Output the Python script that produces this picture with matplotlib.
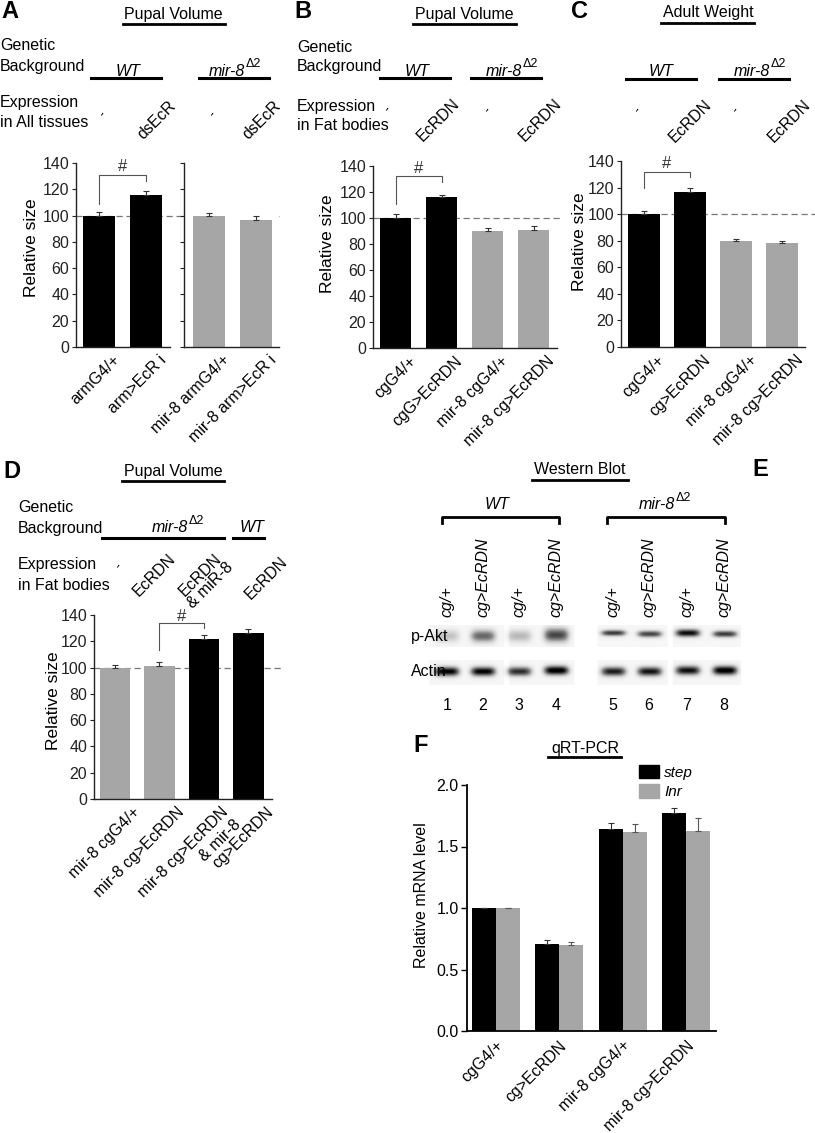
import matplotlib
matplotlib.use("Agg")
import matplotlib.pyplot as plt
import matplotlib.transforms as mtransforms
from matplotlib.lines import Line2D
from matplotlib.patches import Patch
import numpy as np

plt.rcParams['font.family'] = ['Liberation Sans', 'DejaVu Sans']

W, H = 815, 1133
BLK = '#000000'
GRY = '#a6a6a6'

# ---- data ----
a_wt_labels = ['armG4/+', 'arm>EcR i']
a_wt = [100, 116]
a_wt_err = [3, 3]
a_mir_labels = ['mir-8 armG4/+', 'mir-8 arm>EcR i']
a_mir = [100, 97]
a_mir_err = [2, 3]

b_labels = ['cgG4/+', 'cgG>EcRDN', 'mir-8 cgG4/+', 'mir-8 cg>EcRDN']
b_vals = [100, 116, 90, 91]
b_err = [3, 2, 2, 3]

c_labels = ['cgG4/+', 'cg>EcRDN', 'mir-8 cgG4/+', 'mir-8 cg>EcRDN']
c_vals = [100, 117, 80, 78]
c_err = [2, 3, 1, 2]

d_labels = ['mir-8 cgG4/+', 'mir-8 cg>EcRDN', 'mir-8 cg>EcRDN\n& mir-8', 'cg>EcRDN']
d_vals = [100, 101, 122, 126]
d_err = [2, 3, 3, 3]

f_labels = ['cgG4/+', 'cg>EcRDN', 'mir-8 cgG4/+', 'mir-8 cg>EcRDN']
f_step = [1.0, 0.71, 1.64, 1.77]
f_step_err = [0.0, 0.03, 0.05, 0.04]
f_inr = [1.0, 0.70, 1.62, 1.63]
f_inr_err = [0.0, 0.02, 0.06, 0.10]

blot_lanes = ['cg/+', 'cg>EcRDN', 'cg/+', 'cg>EcRDN', 'cg/+', 'cg>EcRDN', 'cg/+', 'cg>EcRDN']
blot_numbers = ['1', '2', '3', '4', '5', '6', '7', '8']
pakt_level = [0.28, 0.6, 0.32, 0.72, 0.75, 0.72, 0.9, 0.75]
actin_level = [0.95, 0.95, 0.8, 1.0, 0.85, 0.88, 0.9, 1.0]

fig = plt.figure(figsize=(W / 100, H / 100), dpi=100)

TICK = 11.5


def add_ax(x0, x1, ytop, ybot):
    return fig.add_axes([x0 / W, 1 - ybot / H, (x1 - x0) / W, (ybot - ytop) / H])


def txt(x, y, s, **kw):
    kw.setdefault('ha', 'center')
    kw.setdefault('va', 'center')
    kw.setdefault('fontsize', 11.5)
    return fig.text(x / W, 1 - y / H, s, **kw)


def hline(x0, x1, y, lw=2.2, color='k'):
    fig.add_artist(Line2D([x0 / W, x1 / W], [1 - y / H, 1 - y / H], color=color, lw=lw))


def mir8(split, y, size=11.5):
    txt(split, y, 'mir-8', ha='right', style='italic', fontsize=size)
    txt(split + 1, y - 7, '\u03942', ha='left', fontsize=size * 0.78)


def style_ax(ax, xlim, labels, dx=13, ylabels=True):
    ax.set_xlim(xlim)
    ax.set_ylim(0, 140)
    for s in ['top', 'right']:
        ax.spines[s].set_visible(False)
    for s in ['left', 'bottom']:
        ax.spines[s].set_color('#222222')
        ax.spines[s].set_linewidth(1.0)
    ax.set_yticks(range(0, 141, 20))
    ax.tick_params(axis='y', length=3, width=0.8, labelsize=TICK, pad=2, colors='#222222')
    if not ylabels:
        ax.set_yticklabels([])
    ax.set_xticks(np.arange(len(labels)))
    ax.set_xticklabels(labels, rotation=45, ha='right', rotation_mode='anchor', fontsize=TICK)
    ax.tick_params(axis='x', length=0, pad=4)
    off = mtransforms.ScaledTranslation(dx / 100, 0, fig.dpi_scale_trans)
    for lab in ax.get_xticklabels():
        lab.set_transform(lab.get_transform() + off)


def bars(ax, vals, errs, colors, width=0.68):
    x = np.arange(len(vals))
    ax.bar(x, vals, width=width, color=colors, edgecolor='none', zorder=2)
    ax.errorbar(x, vals, yerr=[np.zeros(len(vals)), errs], fmt='none', ecolor='#333333',
                elinewidth=0.8, capsize=2.5, capthick=0.8, zorder=3)


def bracket(ax, i, j, ylow_i, ytop, ylow_j, ysign):
    ax.plot([i, i, j, j], [ylow_i, ytop, ytop, ylow_j], color='#555555', lw=0.8, zorder=4,
            clip_on=False)
    ax.text((i + j) / 2, ysign, '#', ha='center', va='center', fontsize=12, color='#333333')


def dashed(ax, xmax):
    ax.axhline(100, xmin=0, xmax=xmax, color='#777777', ls=(0, (5, 3)), lw=0.9,
               clip_on=False, zorder=1)


# ---------------- Panel A ----------------
txt(10, 12, 'A', fontsize=17, fontweight='bold')
txt(173, 15, 'Pupal Volume')
hline(123, 225, 24, lw=2)
txt(0, 46, 'Genetic', ha='left')
txt(0, 66, 'Background', ha='left')
txt(128, 71, 'WT', style='italic')
hline(91, 161, 78)
mir8(245, 71)
hline(199, 269, 78)
txt(0, 102, 'Expression', ha='left')
txt(0, 122, 'in All tissues', ha='left')
txt(102, 114, '-', rotation=55, fontsize=10)
txt(212, 114, '-', rotation=55, fontsize=10)
txt(157, 120, 'dsEcR', rotation=45, fontsize=TICK)
txt(262, 120, 'dsEcR', rotation=45, fontsize=TICK)

axA1 = add_ax(76, 170, 163, 347)
bars(axA1, a_wt, a_wt_err, [BLK, BLK])
style_ax(axA1, (-0.49, 1.51), a_wt_labels)
dashed(axA1, (279 - 76) / (170 - 76))
bracket(axA1, 0, 1, 109, 131, 126, 137)

axA2 = add_ax(184, 279, 163, 347)
bars(axA2, a_mir, a_mir_err, [GRY, GRY])
style_ax(axA2, (-0.54, 1.5), a_mir_labels, ylabels=False)
txt(32, 248, 'Relative size', rotation=90, fontsize=12.5)

# ---------------- Panel B ----------------
txt(303, 12, 'B', fontsize=17, fontweight='bold')
txt(464, 15, 'Pupal Volume')
hline(413, 516, 24, lw=2)
txt(297, 47, 'Genetic', ha='left')
txt(297, 67, 'Background', ha='left')
txt(417, 71, 'WT', style='italic')
hline(380, 450, 78)
mir8(522, 71)
hline(471, 541, 78)
txt(297, 106, 'Expression', ha='left')
txt(297, 125, 'in Fat bodies', ha='left')
txt(387, 109, '-', rotation=55, fontsize=10)
txt(487, 110, '-', rotation=55, fontsize=10)
txt(438, 120, 'EcRDN', rotation=45, fontsize=TICK)
txt(540, 120, 'EcRDN', rotation=45, fontsize=TICK)

axB = add_ax(373, 557, 166, 348)
bars(axB, b_vals, b_err, [BLK, BLK, GRY, GRY])
style_ax(axB, (-0.49, 3.51), b_labels)
dashed(axB, (563 - 373) / (557 - 373))
bracket(axB, 0, 1, 111, 132, 128, 138)
txt(328, 244, 'Relative size', rotation=90, fontsize=12.5)

# ---------------- Panel C ----------------
txt(580, 12, 'C', fontsize=17, fontweight='bold')
txt(708, 13, 'Adult Weight')
hline(661, 754, 23, lw=2)
txt(661, 72, 'WT', style='italic')
hline(626, 696, 79)
mir8(770, 71)
hline(719, 789, 79)
txt(637, 110, '-', rotation=55, fontsize=10)
txt(735, 110, '-', rotation=55, fontsize=10)
txt(690, 121, 'EcRDN', rotation=45, fontsize=TICK)
txt(789, 121, 'EcRDN', rotation=45, fontsize=TICK)

axC = add_ax(621, 805, 161, 347)
bars(axC, c_vals, c_err, [BLK, BLK, GRY, GRY])
style_ax(axC, (-0.5, 3.5), c_labels)
dashed(axC, (815 - 621) / (805 - 621))
bracket(axC, 0, 1, 120, 132, 128, 138)
txt(580, 242, 'Relative size', rotation=90, fontsize=12.5)

# ---------------- Panel D ----------------
txt(12, 472, 'D', fontsize=17, fontweight='bold')
txt(173, 471, 'Pupal Volume')
hline(122, 224, 481, lw=2)
txt(18, 508, 'Genetic', ha='left')
txt(18, 528, 'Background', ha='left')
mir8(188, 528)
hline(102, 224, 538)
txt(252, 527, 'WT', style='italic')
hline(233, 264, 538)
txt(18, 565, 'Expression', ha='left')
txt(18, 585, 'in Fat bodies', ha='left')
txt(118, 566, '-', rotation=55, fontsize=10)
txt(154, 575, 'EcRDN', rotation=45, fontsize=TICK)
txt(205, 580, 'EcRDN\n& miR-8', rotation=45, fontsize=TICK, linespacing=0.95)
txt(266, 578, 'EcRDN', rotation=45, fontsize=TICK)

axD = add_ax(94, 272, 615, 799)
bars(axD, d_vals, d_err, [GRY, GRY, BLK, BLK], width=0.68)
style_ax(axD, (-0.47, 3.53), d_labels, dx=17)
dashed(axD, (283 - 94) / (272 - 94))
bracket(axD, 1, 2, 113, 134, 130, 139)
txt(53, 701, 'Relative size', rotation=90, fontsize=12.5)

# ---------------- Panel E (western blot) ----------------
txt(760, 470, 'E', fontsize=17, fontweight='bold')
txt(580, 470, 'Western Blot')
hline(532, 628, 480, lw=2)
txt(497, 505, 'WT', style='italic')
mir8(675, 505)
for x0, x1 in [(442, 559), (607, 725)]:
    fig.add_artist(Line2D([x0 / W, x0 / W, x1 / W, x1 / W],
                          [1 - 523 / H, 1 - 517 / H, 1 - 517 / H, 1 - 523 / H],
                          color='k', lw=2))

lane_x = [447, 483, 519, 556, 613, 649, 687, 724]
pieces = [(429, 504), (509, 574), (597, 667), (672, 740)]
for xl, lab, num in zip(lane_x, blot_lanes, blot_numbers):
    txt(xl, 617, lab, rotation=90, va='bottom', style='italic', fontsize=11.5)
    txt(xl, 706, num, fontsize=11.5)
txt(411, 636, 'p-Akt', ha='left', fontsize=11.5)
txt(411, 672, 'Actin', ha='left', fontsize=11.5)


def blot_row(levels, ytop, ybot, widths, yc_list):
    xs = np.arange(pieces[0][0], pieces[-1][1]) + 0.5
    ys = np.arange(ybot - ytop) + 0.5
    X, Y = np.meshgrid(xs, ys)
    img = np.zeros_like(X)
    for p0, p1 in pieces:
        img[:, (xs >= p0) & (xs < p1)] = 0.07
    for xc, lev, sy, yc in zip(lane_x, levels, widths, yc_list):
        img += lev * np.exp(-((X - xc) / 12.5) ** 4) * np.exp(-0.5 * ((Y - yc) / sy) ** 2)
    ax = add_ax(pieces[0][0], pieces[-1][1], ytop, ybot)
    ax.imshow(np.clip(img, 0, 1), cmap='Greys', vmin=0, vmax=1, aspect='auto',
              interpolation='bilinear')
    ax.axis('off')


blot_row(pakt_level, 625, 647, [4.5, 4.5, 4.5, 5, 2.2, 2.4, 2.8, 2.4],
         [11, 11, 11, 10, 8, 9, 8, 9])
blot_row(actin_level, 660, 685, [3.2] * 8, [12, 12, 12, 11, 12, 12, 11, 11])

# ---------------- Panel F (qRT-PCR) ----------------
txt(421, 745, 'F', fontsize=17, fontweight='bold')
txt(585, 748, 'qRT-PCR')
hline(548, 621, 757, lw=2)

axF = add_ax(467, 716, 785, 1031)
xg = np.arange(len(f_labels))
w = 0.378
axF.bar(xg - w / 2, f_step, w, color=BLK, edgecolor='none', zorder=2)
axF.bar(xg + w / 2, f_inr, w, color=GRY, edgecolor='none', zorder=2)
axF.errorbar(xg - w / 2, f_step, yerr=[np.zeros(4), f_step_err], fmt='none', ecolor='#333333',
             elinewidth=0.8, capsize=2.5, capthick=0.8, zorder=3)
axF.errorbar(xg + w / 2, f_inr, yerr=[np.zeros(4), f_inr_err], fmt='none', ecolor='#555555',
             elinewidth=0.8, capsize=2.5, capthick=0.8, zorder=3)
axF.set_xlim(-0.45, 3.47)
axF.set_ylim(0, 2.0)
for s in ['top', 'right']:
    axF.spines[s].set_visible(False)
for s in ['left', 'bottom']:
    axF.spines[s].set_linewidth(1.3)
axF.set_yticks([0, 0.5, 1.0, 1.5, 2.0])
axF.set_yticklabels(['0.0', '0.5', '1.0', '1.5', '2.0'])
axF.tick_params(axis='y', length=4, width=1, labelsize=11.5, pad=2)
axF.set_xticks(xg)
axF.set_xticklabels(f_labels, rotation=45, ha='right', rotation_mode='anchor', fontsize=TICK)
axF.tick_params(axis='x', length=0, pad=5)
txt(422, 895, 'Relative mRNA level', rotation=90, fontsize=11.5)
axF.legend(handles=[Patch(color=BLK), Patch(color=GRY)], labels=['step', 'Inr'],
           loc='upper left', bbox_to_anchor=(639 / W, 1 - 765 / H),
           bbox_transform=fig.transFigure, frameon=False, handlelength=1.3,
           handleheight=0.95, handletextpad=0.35, labelspacing=0.3, borderpad=0,
           borderaxespad=0, prop={'style': 'italic', 'size': 11})

fig.savefig('out.png', dpi=100)
